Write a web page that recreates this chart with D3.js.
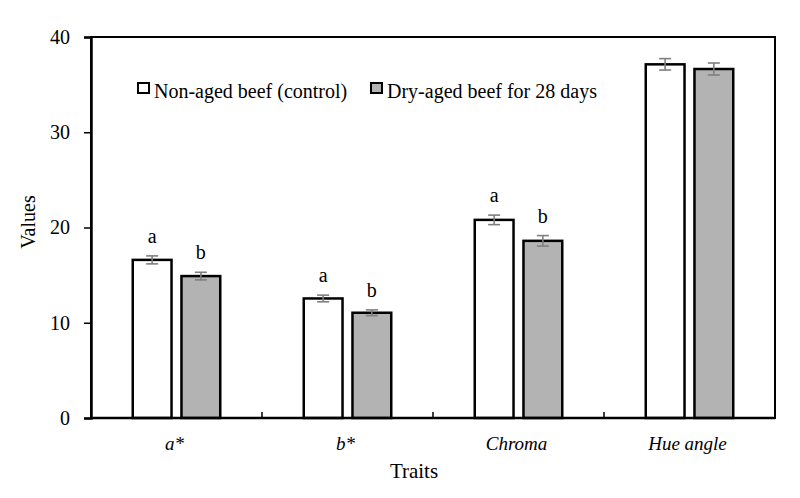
<!DOCTYPE html>
<html>
<head>
<meta charset="utf-8">
<script src="https://cdn.jsdelivr.net/npm/d3@7"></script>
<style>
  html, body { margin: 0; padding: 0; background: #fff; }
  svg text { font-family: "Liberation Serif", "Times New Roman", serif; fill: #000; }
</style>
</head>
<body>
<svg id="chart" width="800" height="498"></svg>
<script>
const categories = ["a*", "b*", "Chroma", "Hue angle"];
const seriesNames = ["Non-aged beef (control)", "Dry-aged beef for 28 days"];
const controlValues = [16.6, 12.55, 20.8, 37.13];
const controlErrors = [0.42, 0.35, 0.5, 0.6];
const agedValues = [14.9, 11.05, 18.6, 36.64];
const agedErrors = [0.4, 0.3, 0.55, 0.63];
const controlLetters = ["a", "a", "a", ""];
const agedLetters = ["b", "b", "b", ""];
const yTicks = [0, 10, 20, 30, 40];

const svg = d3.select("#chart");
const plotLeft = 91, plotRight = 775, plotTop = 37, plotBottom = 418;
const fills = ["#ffffff", "#b3b3b3"];

const x = d3.scaleBand().domain(categories).range([plotLeft, plotRight]).paddingInner(0).paddingOuter(0);
const xs = d3.scaleBand().domain(seriesNames).range([0, x.bandwidth()]).paddingInner(0.204).paddingOuter(0.857);
const y = d3.scaleLinear().domain([0, 40]).range([plotBottom, plotTop]);

const data = [];
categories.forEach((c, i) => {
  data.push({cat: c, s: seriesNames[0], v: controlValues[i], e: controlErrors[i], l: controlLetters[i], k: 0});
  data.push({cat: c, s: seriesNames[1], v: agedValues[i], e: agedErrors[i], l: agedLetters[i], k: 1});
});

// plot frame
svg.append("rect").attr("x", plotLeft).attr("y", plotTop).attr("width", plotRight - plotLeft).attr("height", plotBottom - plotTop)
  .attr("fill", "none").attr("stroke", "#000").attr("stroke-width", 2);

// bars
svg.append("g").selectAll("rect").data(data).join("rect")
  .attr("x", d => x(d.cat) + xs(d.s))
  .attr("y", d => y(d.v))
  .attr("width", xs.bandwidth())
  .attr("height", d => y(0) - y(d.v))
  .attr("fill", d => fills[d.k])
  .attr("stroke", "#000")
  .attr("stroke-width", 2.5);

// error bars
const eg = svg.append("g").attr("stroke", "#7f7f7f").attr("stroke-width", 1.6);
data.forEach(d => {
  const cx = x(d.cat) + xs(d.s) + xs.bandwidth() / 2;
  eg.append("line").attr("x1", cx).attr("x2", cx).attr("y1", y(d.v + d.e)).attr("y2", y(d.v - d.e));
  eg.append("line").attr("x1", cx - 6).attr("x2", cx + 6).attr("y1", y(d.v + d.e)).attr("y2", y(d.v + d.e));
  eg.append("line").attr("x1", cx - 6).attr("x2", cx + 6).attr("y1", y(d.v - d.e)).attr("y2", y(d.v - d.e));
});

// significance letters
svg.append("g").selectAll("text").data(data.filter(d => d.l)).join("text")
  .attr("x", d => x(d.cat) + xs(d.s) + xs.bandwidth() / 2)
  .attr("y", d => y(d.v + d.e) - 13)
  .attr("text-anchor", "middle")
  .attr("font-size", 20)
  .text(d => d.l);

// y axis
const yAxis = d3.axisLeft(y).tickValues(yTicks).tickSize(7).tickPadding(14).tickFormat(d3.format("d"));
const ya = svg.append("g").attr("transform", `translate(${plotLeft},0)`).call(yAxis);
ya.select(".domain").attr("stroke", "#000").attr("stroke-width", 2.5);
ya.selectAll(".tick line").attr("stroke", "#000").attr("stroke-width", 1.5);
ya.selectAll(".tick text").attr("font-size", 20).attr("font-family", "Liberation Serif").attr("fill", "#000");

// x axis (category boundaries ticks pointing inward)
const xa = svg.append("g").attr("transform", `translate(0,${plotBottom})`);
xa.append("line").attr("x1", plotLeft).attr("x2", plotRight).attr("y1", 0).attr("y2", 0)
  .attr("stroke", "#000").attr("stroke-width", 2.5);
categories.slice(1).forEach(c => {
  xa.append("line").attr("x1", x(c)).attr("x2", x(c)).attr("y1", 0).attr("y2", -6)
    .attr("stroke", "#000").attr("stroke-width", 1.5);
});
xa.selectAll("text.cat").data(categories).join("text").attr("class", "cat")
  .attr("x", d => x(d) + x.bandwidth() / 2 - 2)
  .attr("y", 32)
  .attr("text-anchor", "middle")
  .attr("font-size", 19)
  .attr("font-style", "italic")
  .text(d => d);

// axis titles
svg.append("text").attr("x", 414).attr("y", 478).attr("text-anchor", "middle").attr("font-size", 21).text("Traits");
svg.append("text").attr("transform", "translate(35,222) rotate(-90)").attr("text-anchor", "middle").attr("font-size", 20).text("Values");

// legend
const legendX = [138, 371];
seriesNames.forEach((s, i) => {
  svg.append("rect").attr("x", legendX[i]).attr("y", 83).attr("width", 11).attr("height", 10)
    .attr("fill", fills[i]).attr("stroke", "#000").attr("stroke-width", 2);
  svg.append("text").attr("x", legendX[i] + 16).attr("y", 98).attr("font-size", 20).text(s);
});
</script>
</body>
</html>
